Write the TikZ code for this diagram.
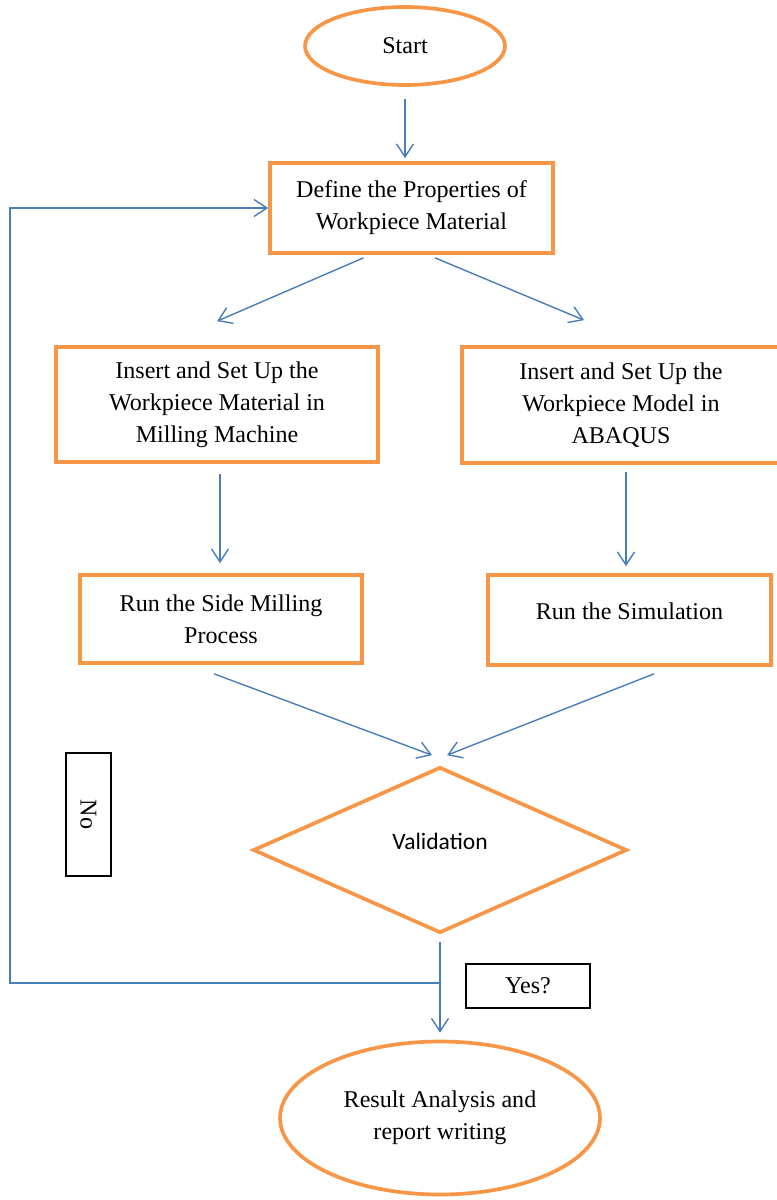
\documentclass[tikz,border=0pt]{standalone}
\usepackage{fontspec}
\setmainfont{Liberation Serif}
\newfontfamily\calibrifont{Carlito}
\usetikzlibrary{calc,arrows.meta,shapes.geometric}
\definecolor{boxorange}{RGB}{247,150,70}
\definecolor{lineblue}{RGB}{74,126,187}

\begin{document}
\begin{tikzpicture}[x=0.02cm, y=-0.02cm,
    every node/.style={font=\fontsize{13.7}{18.2}\selectfont, align=center},
    process/.style={draw=boxorange, line width=2.1pt, rectangle, inner sep=0pt},
    terminal/.style={draw=boxorange, line width=2.1pt, ellipse, inner sep=0pt},
    decision/.style={draw=boxorange, line width=2.1pt, diamond, inner sep=0pt},
    tag/.style={draw=black, line width=0.6pt, inner sep=0pt},
    flow/.style={draw=lineblue, line width=0.8pt, -{Straight Barb[length=2.6mm,width=3.4mm]}}]
  \useasboundingbox (0,0) rectangle (777,1200);
  \node[terminal, minimum width=4cm, minimum height=1.56cm] (start) at (405,46) {Start};
  \node[process, minimum width=5.66cm, minimum height=1.8cm] (define) at (411.5,208) {Define the Properties of\\Workpiece Material};
  \node[process, minimum width=6.44cm, minimum height=2.3cm] (insL) at (217,404.5) {Insert and Set Up the\\Workpiece Material in\\Milling Machine};
  \node[process, minimum width=6.36cm, minimum height=2.32cm] (insR) at (621,405) {Insert and Set Up the\\Workpiece Model in\\ABAQUS};
  \node[process, minimum width=5.64cm, minimum height=1.76cm] (runL) at (221,619) {Run the Side Milling\\Process};
  \node[process, minimum width=5.66cm, minimum height=1.8cm] (runR) at (629.5,620) {\raisebox{3.4mm}{Run the Simulation}};
  \node[decision, minimum width=7.48cm, minimum height=3.32cm, font=\calibrifont\fontsize{13.4}{16}\selectfont] (valid) at (440,850) {\raisebox{3.6mm}{Validation}};
  \node[terminal, minimum width=6.4cm, minimum height=3.06cm] (result) at (440,1118) {Result Analysis and\\report writing};
  \node[tag, rotate=-90, minimum width=2.46cm, minimum height=0.9cm] (no) at (88.5,814.5) {No};
  \node[tag, minimum width=2.48cm, minimum height=0.88cm] (yes) at (528,986) {Yes?};
  \draw[flow, shorten <=2.4mm, shorten >=0.6mm] (start) -- (start |- define.north);
  \draw[flow] ($(define.south)+(-48,3)$) -- ($(insL.north)+(0,-24)$);
  \draw[flow] ($(define.south)+(23.5,3)$) -- ($(insR.north)+(-37,-25)$);
  \draw[flow, shorten <=2mm, shorten >=2mm] ($(insL.south)+(3,0)$) -- ($(runL.north)+(-1,0)$);
  \draw[flow, shorten <=1.4mm, shorten >=1.4mm] ($(insR.south)+(5,0)$) -- ($(runR.north)+(-3.5,0)$);
  \draw[flow] ($(runL.south)+(-7,9)$) -- ($(valid.north)+(-8,-10)$);
  \draw[flow] ($(runR.south)+(24.5,7)$) -- ($(valid.north)+(7,-10)$);
  \draw[flow, shorten <=1.4mm, shorten >=1.4mm] (valid.south) -- (result.north);
  % loop back when not validated
  \coordinate (split) at (440,983);
  \coordinate (corner) at (10,983);
  \draw[flow] (split) -- (corner) |- (define.west);
\end{tikzpicture}
\end{document}
